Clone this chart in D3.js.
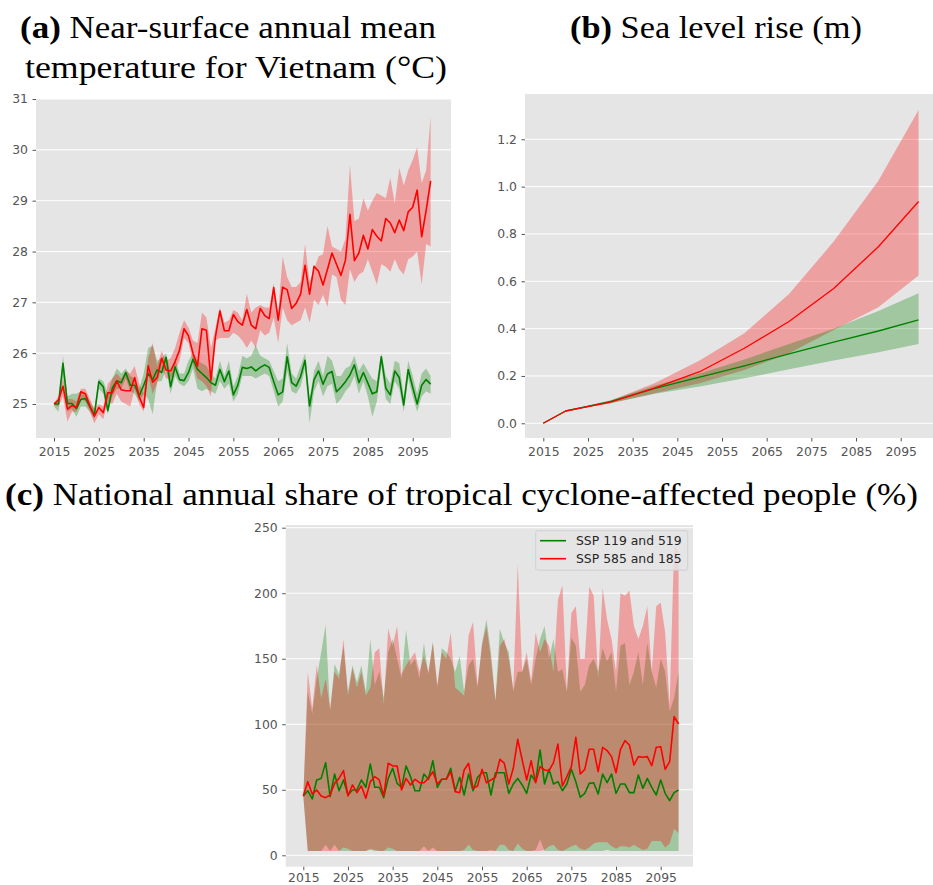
<!DOCTYPE html>
<html><head><meta charset="utf-8">
<script src="https://cdn.jsdelivr.net/npm/d3@7"></script>
<style>
html,body{margin:0;padding:0;background:#fff;}
svg{display:block;}
.tick text{font-family:"DejaVu Sans",sans-serif;font-size:12.4px;fill:#555;}
.tick line{stroke:#555;}
.title{font-family:"Liberation Serif","DejaVu Serif",serif;font-size:31px;fill:#000;}
</style></head>
<body>
<svg id="chart" width="933" height="885"></svg>
<script>
// ---------- data ----------
const years = d3.range(2015, 2100);
const xTicks = [2015, 2025, 2035, 2045, 2055, 2065, 2075, 2085, 2095];

// (a) temperature
const tempTicks = [25, 26, 27, 28, 29, 30, 31];
const tempRedMean = [
 25.0,25.08,25.35,24.9,24.97,24.93,25.24,25.2,24.96,24.76,
 24.93,24.83,25.22,25.22,25.45,25.28,25.26,25.26,25.52,25.14,
 24.93,25.75,25.43,25.52,25.9,25.67,25.65,25.83,26.06,26.48,
 26.34,26.0,25.75,26.48,26.45,25.47,26.32,26.83,26.44,26.44,
 26.76,26.62,26.55,26.86,26.55,26.48,26.88,26.74,26.68,27.29,
 26.65,27.3,27.25,26.88,26.98,27.16,27.73,27.16,27.71,27.61,
 27.34,27.65,27.97,27.75,27.53,27.83,28.73,27.82,27.97,28.32,
 28.05,28.43,28.3,28.21,28.65,28.56,28.37,28.62,28.41,28.78,
 28.87,29.21,28.29,28.81,29.39];
const tempRedUpper = [
 25.02,25.15,25.5,25.1,25.1,25.05,25.3,25.3,25.1,24.9,
 25.0,24.95,25.4,25.5,25.6,25.5,25.65,25.6,25.75,25.4,
 25.2,25.9,26.2,25.75,26.05,25.85,25.9,26.1,26.4,26.65,
 26.5,26.25,26.2,26.8,26.7,26.1,26.5,26.9,26.6,26.65,
 26.85,26.8,26.65,27.17,26.8,26.9,26.95,26.9,26.9,27.37,
 26.8,27.9,27.5,27.3,27.3,27.4,28.15,27.4,27.65,27.9,
 27.95,28.5,28.1,28.05,28.0,28.25,29.7,28.6,28.65,29.05,
 28.8,29.0,29.15,29.1,29.05,29.45,28.95,29.65,29.3,29.6,
 29.8,30.05,29.35,29.6,30.65];
const tempRedLower = [
 24.98,24.95,25.15,24.65,24.85,24.85,25.1,25.05,24.85,24.62,
 24.8,24.7,25.05,25.0,25.2,25.05,25.0,24.95,25.3,25.0,
 24.85,25.55,25.2,25.4,25.7,25.5,25.5,25.65,25.85,26.3,
 26.2,25.8,25.5,25.45,25.35,25.15,26.25,26.3,26.3,26.3,
 26.4,26.35,26.25,26.1,26.25,26.1,26.45,26.35,26.4,26.7,
 26.2,26.9,26.65,26.55,26.6,26.65,26.9,26.6,27.05,26.95,
 27.15,26.91,27.55,27.5,27.05,26.95,27.65,27.4,27.55,27.6,
 27.85,27.6,27.35,27.75,27.7,27.6,27.85,27.65,27.55,27.85,
 27.9,28.0,27.35,28.15,28.1];
const tempGreenMean = [
 25.0,25.0,25.8,25.01,25.01,24.91,25.09,25.11,24.95,24.78,
 25.44,25.34,24.87,25.31,25.46,25.42,25.62,25.37,25.37,25.16,
 25.37,25.6,25.48,25.67,25.62,25.92,25.34,25.73,25.48,25.46,
 25.62,25.88,25.68,25.6,25.52,25.42,25.37,25.68,25.44,25.65,
 25.18,25.37,25.72,25.7,25.73,25.65,25.72,25.77,25.72,25.44,
 25.18,25.24,25.93,25.42,25.35,25.54,25.86,24.96,25.48,25.65,
 25.39,25.59,25.64,25.24,25.33,25.44,25.57,25.77,25.42,25.62,
 25.41,25.2,25.24,25.93,25.31,25.18,25.65,25.52,24.98,25.68,
 25.33,25.0,25.37,25.48,25.39];
const tempGreenUpper = [
 25.02,25.05,25.95,25.15,25.2,25.2,25.25,25.2,25.05,24.9,
 25.5,25.45,25.2,25.5,25.7,25.6,25.7,25.55,25.5,25.3,
 25.6,26.1,26.15,25.85,25.9,26.0,25.6,25.9,25.6,25.6,
 25.85,26.0,25.85,25.8,25.75,25.6,25.5,25.85,25.55,25.85,
 25.35,25.55,25.95,25.9,25.95,26.15,25.95,25.9,25.85,25.65,
 25.45,25.5,26.2,25.6,25.5,25.75,26.0,25.1,25.65,25.85,
 25.55,25.95,25.85,25.55,25.55,25.7,25.75,25.95,25.65,25.8,
 25.65,25.5,25.45,26.0,25.55,25.4,25.85,25.8,25.15,25.85,
 25.55,25.2,25.6,25.7,25.55];
const tempGreenLower = [
 24.95,24.85,25.55,24.85,24.9,24.75,24.95,24.95,24.85,24.7,
 25.3,25.2,24.8,25.15,25.3,25.3,25.5,25.25,25.2,25.05,
 25.2,25.1,24.8,25.45,25.45,25.7,25.2,25.55,25.4,25.35,
 25.45,25.7,25.3,25.25,25.3,25.25,25.2,25.45,25.3,25.4,
 25.05,25.2,25.55,25.55,25.55,25.5,25.55,25.6,25.55,25.25,
 24.95,25.05,25.65,25.25,25.2,25.35,25.7,24.62,25.25,25.45,
 25.15,25.35,25.4,25.0,25.1,25.25,25.35,25.55,25.2,25.45,
 25.15,24.75,25.05,25.75,25.1,25.0,25.45,25.3,24.85,25.5,
 25.15,24.85,25.15,25.25,25.2];

// (b) sea level rise
const slYears = [2015, 2020, 2030, 2040, 2050, 2060, 2070, 2080, 2090, 2099];
const slTicks = [0.0, 0.2, 0.4, 0.6, 0.8, 1.0, 1.2];
const slRedMean  = [0, 0.052, 0.089, 0.150, 0.218, 0.317, 0.430, 0.570, 0.746, 0.937];
const slRedUpper = [0, 0.052, 0.095, 0.170, 0.265, 0.380, 0.546, 0.768, 1.025, 1.324];
const slRedLower = [0, 0.052, 0.085, 0.127, 0.169, 0.225, 0.296, 0.394, 0.490, 0.624];
const slGreenMean  = [0, 0.052, 0.092, 0.148, 0.195, 0.243, 0.293, 0.343, 0.390, 0.437];
const slGreenUpper = [0, 0.052, 0.097, 0.160, 0.210, 0.270, 0.335, 0.400, 0.475, 0.550];
const slGreenLower = [0, 0.052, 0.085, 0.125, 0.155, 0.190, 0.228, 0.265, 0.300, 0.335];

// (c) tropical cyclone-affected people
const tcTicks = [0, 50, 100, 150, 200, 250];
const tcGreenMean = [
 45.3,49.3,43,57.5,58.7,70.7,44.8,62,49.3,57.5,
 46,49.8,49.8,57.5,51.9,69.7,51.9,51.9,44,58.7,
 66.4,54.9,51.9,68.2,60,49.3,49.3,62,58,72.2,
 51.9,58,58,66.4,49.3,59.5,46,62,49.3,59.5,
 63,63,46,63,63,63,47.3,54.4,58.7,53.7,
 47.3,61.3,56.2,80.4,54.4,65.6,54.4,56.2,49.3,54.4,
 65.6,56.2,44.3,47.3,54.9,55.4,46.8,62,55.4,62,
 47.3,54.4,54.4,47.8,47.8,61.3,51.1,58.7,51.9,46,
 57.5,47.3,41.7,47.8,49.8];
const tcRedMean = [
 45.3,56.2,46.8,49.8,45.3,44,46,54.9,58.7,64.6,
 45.3,53.7,47.8,52.9,43.5,56.2,60,57.5,45.3,70.2,
 68.2,68.2,49.8,58.7,53.7,58,55.4,55.4,58.7,63.8,
 54.4,58,58,63.8,48.6,47.8,65.1,70.2,51.1,52.9,
 65.6,55.4,57.5,59.5,73.2,70.2,54.4,66.4,88.5,72.7,
 57.5,72.2,55.4,67.7,65.1,64.6,70.7,84.9,52.9,60,
 67.7,90,62,65.6,80.9,80.9,63.8,82.4,79.9,75.3,
 63,80.9,87.5,84.2,68.9,75.3,74.8,75.3,68.4,82.4,
 82.9,65.6,71.5,105.8,100.2];
const tcRedUpper = [
 45,140,112,145,120,135,112,140,135,165,
 122,143,128,140,122,128,155,158,115,173,
 160,175,138,145,150,155,140,152,140,162,
 130,155,150,170,128,125,122,168,178,130,
 160,175,150,118,160,165,150,127,222,140,
 155,133,170,155,165,160,140,195,206,125,
 185,190,150,150,205,198,135,204,180,165,
 140,200,198,202,175,165,175,190,140,190,
 193,170,115,236,232];
const tcGreenUpper = [
 45,125,108,135,155,176,110,146,138,160,
 125,145,132,145,125,165,130,140,120,155,
 165,150,135,172,145,150,135,162,138,163,
 128,158,155,150,140,152,125,145,150,128,
 162,180,155,118,173,162,155,125,140,140,
 150,130,150,165,175,150,165,140,142,125,
 166,160,125,130,145,150,140,158,148,155,
 125,160,162,130,140,155,130,162,140,128,
 150,140,110,120,140];
const tcGreenLower = [
 45,3.3,3.3,3.3,3.3,8,3.3,8,3.3,3.3,
 3.3,3.3,3.3,3.3,3.3,4,3.3,3.3,3.3,3.3,
 3.3,3.3,3.3,3.3,3.3,3.3,3.3,7,3.3,6,
 3.3,3.3,3.3,3.3,3.3,3.3,3.3,3.3,3.3,3.3,
 3.3,3.3,4,3.3,3.3,3.3,3.3,3.3,3.3,3.3,
 3.3,3.3,4,12,3.3,3.3,3.3,3.3,3.3,3.3,
 3.3,3.3,3.3,3.3,3.3,3.3,3.3,3.3,4,3.3,
 3.3,3.3,3.3,3.3,3.3,3.3,3.3,3.3,3.3,3.3,
 3.3,3.3,3.3,3.3,3.3];
const tcRedLower = [
 45,3.3,3.3,3.3,3.3,3.3,3.3,3.3,3.3,6,
 5,3.3,3.3,3.3,3.3,5,4,3.3,3.3,6,
 5,3.3,3.3,3.3,3.3,3.3,3.3,3.3,3.3,3.3,
 3.3,3.3,3.3,3.3,3.3,3.3,4,8,4,3.3,
 3.3,3.3,3.3,3.3,8,8,4,3.3,9,5,
 3.3,3.3,3.3,3.3,4,7,8,4,3.3,5,
 7,8,5,4,6,9,10,10,10,7,
 5,7,7,6,8,6,4,5,11,11,
 11,6,9,20,17];

const legendLabels = ["SSP 119 and 519", "SSP 585 and 185"];
const seriesColors = ["green", "red"];

// ---------- drawing ----------
const svg = d3.select("#chart");
let clipId = 0;

function panel(cfg) {
  const g = svg.append("g");
  const x = d3.scaleLinear().domain([2015, 2095]).range(cfg.xr);
  const y = d3.scaleLinear().domain(cfg.yd).range(cfg.yr);
  const L = cfg.box[0], R = cfg.box[1], T = cfg.box[2], B = cfg.box[3];
  const id = "clip" + (clipId++);
  svg.append("clipPath").attr("id", id).append("rect")
    .attr("x", L).attr("y", T).attr("width", R - L).attr("height", B - T);
  g.append("rect").attr("x", L).attr("y", T).attr("width", R - L).attr("height", B - T)
    .attr("fill", "#e5e5e5");
  g.append("g").selectAll("line").data(cfg.yTicks).join("line")
    .attr("x1", L).attr("x2", R)
    .attr("y1", d => y(d)).attr("y2", d => y(d))
    .attr("stroke", "#fff").attr("stroke-width", 1);
  const ya = g.append("g").attr("transform", `translate(${L},0)`)
    .call(d3.axisLeft(y).tickValues(cfg.yTicks).tickFormat(cfg.yFmt).tickSize(3.5).tickPadding(4.5));
  ya.select(".domain").remove();
  const xa = g.append("g").attr("transform", `translate(0,${B})`)
    .call(d3.axisBottom(x).tickValues(xTicks).tickFormat(d3.format("d")).tickSize(3.5).tickPadding(cfg.xPad));
  xa.select(".domain").remove();
  const plot = g.append("g").attr("clip-path", `url(#${id})`);
  return {x, y, plot, g};
}

function band(p, xs, lo, hi, color, op) {
  const area = d3.area().x((d, i) => p.x(xs[i])).y0((d, i) => p.y(lo[i])).y1((d, i) => p.y(hi[i]));
  p.plot.append("path").datum(xs).attr("d", area).attr("fill", color).attr("fill-opacity", op);
}
function line(p, xs, v, color, w) {
  const ln = d3.line().x((d, i) => p.x(xs[i])).y((d, i) => p.y(v[i]));
  p.plot.append("path").datum(xs).attr("d", ln).attr("fill", "none")
    .attr("stroke", color).attr("stroke-width", w).attr("stroke-linejoin", "round");
}

// panel (a)
const pa = panel({xr: [54, 412.7], yd: [25, 31], yr: [404, 99], box: [36, 451, 99, 438],
  yTicks: tempTicks, yFmt: d3.format("d"), xPad: 5.5});
band(pa, years, tempGreenLower, tempGreenUpper, "green", 0.3);
band(pa, years, tempRedLower, tempRedUpper, "red", 0.3);
line(pa, years, tempGreenMean, "green", 1.6);
line(pa, years, tempRedMean, "red", 1.6);

// panel (b)
const pb = panel({xr: [543.3, 900.7], yd: [0, 1.2], yr: [423.3, 139.3], box: [525, 945, 94, 438],
  yTicks: slTicks, yFmt: d3.format(".1f"), xPad: 5.5});
band(pb, slYears, slRedLower, slRedUpper, "red", 0.3);
band(pb, slYears, slGreenLower, slGreenUpper, "green", 0.3);
line(pb, slYears, slGreenMean, "green", 1.3);
line(pb, slYears, slRedMean, "red", 1.3);

// panel (c)
const pc = panel({xr: [303.3, 660.7], yd: [0, 250], yr: [855.3, 527.7], box: [285.7, 693, 525, 866.7],
  yTicks: tcTicks, yFmt: d3.format("d"), xPad: 3.5});
band(pc, years, tcGreenLower, tcGreenUpper, "green", 0.3);
band(pc, years, tcRedLower, tcRedUpper, "red", 0.3);
line(pc, years, tcGreenMean, "green", 1.6);
line(pc, years, tcRedMean, "red", 1.6);

// legend (c)
const lg = svg.append("g");
lg.append("rect").attr("x", 535.7).attr("y", 530.7).attr("width", 152).attr("height", 39.5)
  .attr("rx", 2).attr("fill", "#e5e5e5").attr("fill-opacity", 0.8).attr("stroke", "#cccccc").attr("stroke-opacity", 0.8);
legendLabels.forEach((lab, i) => {
  const yy = 540.7 + i * 18;
  lg.append("line").attr("x1", 540).attr("x2", 566).attr("y1", yy).attr("y2", yy)
    .attr("stroke", seriesColors[i]).attr("stroke-width", 1.6);
  lg.append("text").attr("x", 576).attr("y", yy).attr("dy", "0.35em")
    .attr("font-family", "DejaVu Sans, sans-serif").attr("font-size", 12.4).attr("fill", "#262626")
    .text(lab);
});

// titles
function title(xc, yb, w, bold, rest) {
  const t = svg.append("text").attr("class", "title").attr("x", xc).attr("y", yb)
    .attr("text-anchor", "middle").attr("textLength", w).attr("lengthAdjust", "spacingAndGlyphs");
  if (bold) t.append("tspan").attr("font-weight", "bold").text(bold);
  t.append("tspan").text(rest);
}
title(228, 38, 416, "(a)", " Near-surface annual mean");
title(236, 78, 422, null, "temperature for Vietnam (°C)");
title(716, 38, 292, "(b)", " Sea level rise (m)");
title(461.5, 505, 913, "(c)", " National annual share of tropical cyclone-affected people (%)");
</script>
</body></html>
